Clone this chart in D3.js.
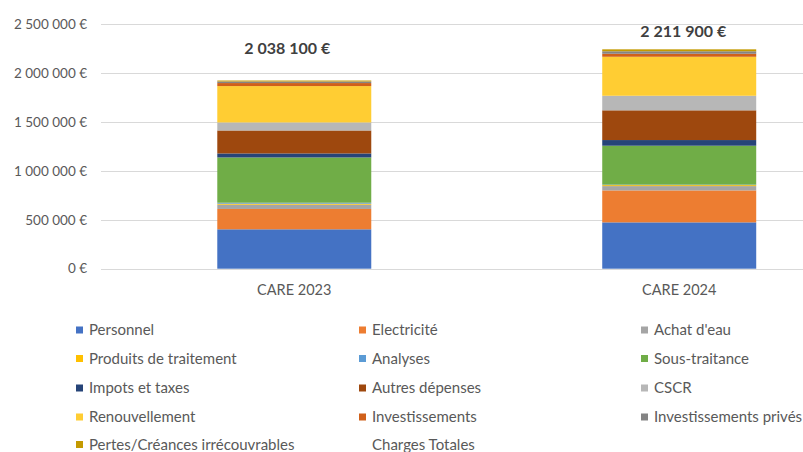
<!DOCTYPE html>
<html>
<head>
<meta charset="utf-8">
<script src="https://cdn.jsdelivr.net/npm/d3@7"></script>
<style>
  body { margin: 0; background: #fff; }
  text { font-family: Lato, "Open Sans", sans-serif; }
</style>
</head>
<body>
<div id="chart"></div>
<script>
// data
const categories = ["CARE 2023", "CARE 2024"];
const seriesNames = ["Personnel", "Electricité", "Achat d'eau", "Produits de traitement", "Analyses",
  "Sous-traitance", "Impots et taxes", "Autres dépenses", "CSCR", "Renouvellement",
  "Investissements", "Investissements privés", "Pertes/Créances irrécouvrables"];
const values2023 = [403000, 208000, 44000, 10000, 10000, 463000, 41000, 235000, 82000, 372000, 31000, 16000, 10000];
const values2024 = [474000, 327000, 44000, 10000, 5000, 398000, 58000, 304000, 149000, 399000, 31000, 25000, 20000];
const chargesTotales = [2038100, 2211900];
const yTicks = [0, 500000, 1000000, 1500000, 2000000, 2500000];
const colors = ["#4472C4", "#ED7D31", "#A5A5A5", "#FFC000", "#5B9BD5", "#70AD47", "#264478",
  "#9E480E", "#B7B7B7", "#FFCD33", "#D0601A", "#848484", "#C49A00"];

function draw() {
  const dimensions = { width: 803, height: 452 };

  const wrapper = d3.select("#chart")
    .append("svg")
    .attr("width", dimensions.width)
    .attr("height", dimensions.height);

  const rows = categories.map((c, i) => {
    const r = { cat: c };
    const vals = i === 0 ? values2023 : values2024;
    seriesNames.forEach((s, j) => r[s] = vals[j]);
    return r;
  });

  const stacked = d3.stack().keys(seriesNames)(rows);

  const x = d3.scaleBand()
    .domain(categories)
    .range([101.8, 871.7])
    .paddingInner(0.6)
    .paddingOuter(0.3);

  const y = d3.scaleLinear()
    .domain([0, 2500000])
    .range([268.7, 24.3]);

  const fmt = v => d3.format(",")(v).replace(/,/g, " ") + " €";

  // gridlines
  wrapper.append("g")
    .selectAll("line")
    .data(yTicks)
    .join("line")
    .attr("x1", 101)
    .attr("x2", dimensions.width)
    .attr("y1", d => Math.round(y(d)) + 0.5)
    .attr("y2", d => Math.round(y(d)) + 0.5)
    .attr("stroke", "#D9D9D9")
    .attr("stroke-width", 1.2);

  // y tick labels
  wrapper.append("g")
    .selectAll("text")
    .data(yTicks)
    .join("text")
    .attr("x", 87)
    .attr("y", d => y(d))
    .attr("dy", "0.35em")
    .attr("text-anchor", "end")
    .attr("fill", "#595959")
    .style("font-size", "13.5px")
    .text(d => fmt(d));

  // bars
  wrapper.append("g")
    .selectAll("g")
    .data(stacked)
    .join("g")
    .attr("fill", (d, i) => colors[i])
    .selectAll("rect")
    .data(d => d)
    .join("rect")
    .attr("x", d => x(d.data.cat))
    .attr("width", x.bandwidth())
    .attr("y", d => y(d[1]))
    .attr("height", d => Math.max(0, y(d[0]) - y(d[1])));

  // x labels
  wrapper.append("g")
    .selectAll("text")
    .data(categories)
    .join("text")
    .attr("x", d => x(d) + x.bandwidth() / 2)
    .attr("y", 290)
    .attr("dy", "0.35em")
    .attr("text-anchor", "middle")
    .attr("fill", "#595959")
    .style("font-size", "14.5px")
    .text(d => d);

  // totals (Charges Totales)
  wrapper.append("g")
    .selectAll("text")
    .data(chargesTotales)
    .join("text")
    .attr("x", (d, i) => x(categories[i]) + x.bandwidth() / 2 - 7 + i * 11)
    .attr("y", d => y(d) - 21)
    .attr("dy", "0.35em")
    .attr("text-anchor", "middle")
    .attr("fill", "#404040")
    .style("font-size", "16px")
    .style("font-weight", "bold")
    .text(d => fmt(d));

  // legend
  const legendItems = seriesNames.map((s, i) => ({ name: s, color: colors[i] }))
    .concat([{ name: "Charges Totales", color: null }]);
  const colX = [76, 359, 641];
  const rowY = [330, 358.5, 388, 417, 444.5];

  const legend = wrapper.append("g")
    .selectAll("g")
    .data(legendItems)
    .join("g")
    .attr("transform", (d, i) => `translate(${colX[i % 3]},${rowY[Math.floor(i / 3)]})`);

  legend.filter(d => d.color)
    .append("rect")
    .attr("x", 0)
    .attr("y", -3.5)
    .attr("width", 7)
    .attr("height", 7)
    .attr("fill", d => d.color);

  legend.append("text")
    .attr("x", 13)
    .attr("y", 0)
    .attr("dy", "0.35em")
    .attr("fill", "#595959")
    .style("font-size", "15px")
    .text(d => d.name);
}
draw();
</script>
</body>
</html>
